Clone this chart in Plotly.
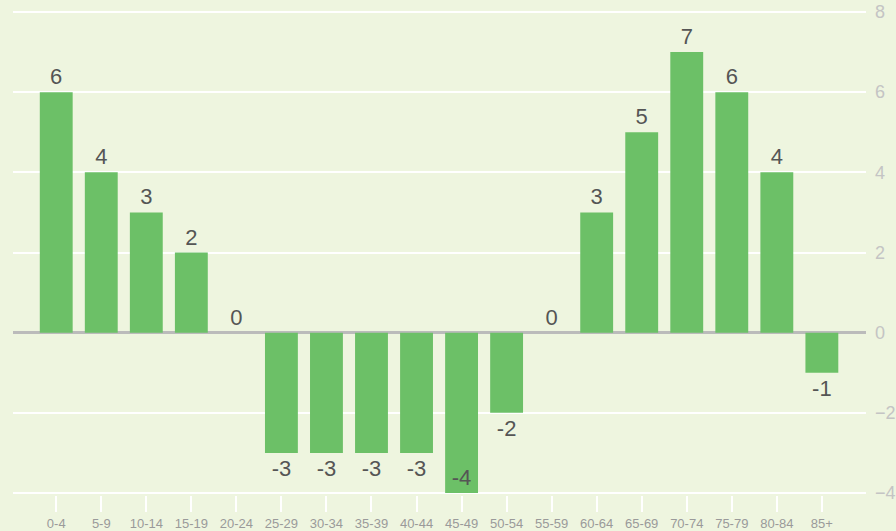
import plotly.graph_objects as go

categories = ["0-4", "5-9", "10-14", "15-19", "20-24", "25-29", "30-34", "35-39", "40-44",
              "45-49", "50-54", "55-59", "60-64", "65-69", "70-74", "75-79", "80-84", "85+"]
values = [6, 4, 3, 2, 0, -3, -3, -3, -3, -4, -2, 0, 3, 5, 7, 6, 4, -1]
y_ticks = [-4, -2, 0, 2, 4, 6, 8]

positions = ["inside" if v <= -4 else "outside" for v in values]
FONT = "Liberation Sans, Arial, sans-serif"

fig = go.Figure(go.Bar(
    x=categories, y=values,
    marker=dict(color="#6cc067", line=dict(width=0)),
    width=0.73,
    text=[str(v) for v in values],
    textposition=positions,
    insidetextanchor="end",
    textfont=dict(size=22, color="#555555", family=FONT),
    insidetextfont=dict(size=22, color="#555555", family=FONT),
    outsidetextfont=dict(size=22, color="#555555", family=FONT),
    cliponaxis=False,
    hoverinfo="skip",
))

fig.update_layout(
    width=896, height=531,
    paper_bgcolor="#eef5df", plot_bgcolor="#eef5df",
    margin=dict(l=13, r=30, t=10, b=36),
    showlegend=False,
    bargap=0.27,
    font=dict(family=FONT),
    xaxis=dict(
        type="category", range=[-0.96, 17.98], automargin=False,
        showgrid=False, zeroline=False, showline=False,
        ticks="outside", ticklen=16, tickwidth=2, tickcolor="#ffffff",
        tickfont=dict(size=13, color="#9a9a9a"),
    ),
    yaxis=dict(
        side="right", range=[-4.05, 8.05], tickvals=y_ticks, automargin=False,
        showgrid=True, gridcolor="#ffffff", gridwidth=2,
        zeroline=True, zerolinecolor="#bbbbbb", zerolinewidth=3,
        showline=False, ticks="",
        tickfont=dict(size=18, color="#c4c4c4"),
        ticklabelstandoff=8,
    ),
)

fig.write_html(
    "out.html",
    config={"displayModeBar": False, "staticPlot": True},
    post_script="document.body.style.margin='0';document.body.style.overflow='hidden';"
                "document.body.style.background='#eef5df';",
)
